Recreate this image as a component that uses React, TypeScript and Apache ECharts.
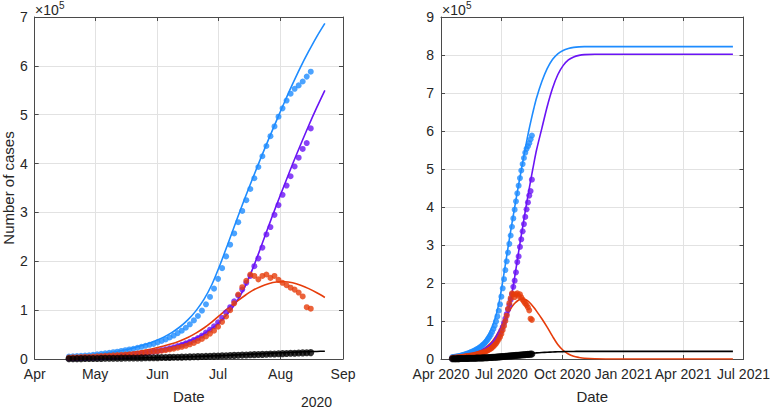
import React, { useEffect, useRef } from 'react';
import * as echarts from 'echarts';

// Observations: every 2 days, first one 17 days after 2020-04-01 (values in units of 10^5)
const obsStartDay = 17;
const obsStepDays = 2;

const confirmedObs = [
  0.05, 0.055, 0.06, 0.065, 0.07, 0.075, 0.085, 0.095, 0.105, 0.115,
  0.125, 0.14, 0.15, 0.165, 0.18, 0.195, 0.21, 0.23, 0.25, 0.27,
  0.29, 0.31, 0.34, 0.37, 0.40, 0.44, 0.48, 0.53, 0.58, 0.64,
  0.71, 0.79, 0.88, 0.99, 1.12, 1.27, 1.44, 1.64, 1.86, 2.10,
  2.34, 2.57, 2.80, 3.03, 3.25, 3.48, 3.70, 3.93, 4.15, 4.36,
  4.56, 4.76, 4.96, 5.13, 5.29, 5.43, 5.53, 5.60, 5.68, 5.78,
  5.88,
];
const recoveredObs = [
  0.01, 0.012, 0.014, 0.016, 0.018, 0.02, 0.025, 0.03, 0.035, 0.04,
  0.045, 0.05, 0.055, 0.06, 0.07, 0.08, 0.09, 0.10, 0.11, 0.12,
  0.135, 0.15, 0.16, 0.18, 0.20, 0.22, 0.24, 0.265, 0.29, 0.32,
  0.35, 0.39, 0.43, 0.48, 0.54, 0.60, 0.67, 0.75, 0.84, 0.95,
  1.06, 1.18, 1.30, 1.42, 1.56, 1.70, 1.90, 2.06, 2.28, 2.55,
  2.70, 2.95, 3.15, 3.36, 3.55, 3.74, 3.94, 4.12, 4.30, 4.42,
  4.72,
];
const activeObs = [
  0.03, 0.033, 0.036, 0.04, 0.043, 0.046, 0.05, 0.055, 0.06, 0.065,
  0.07, 0.075, 0.08, 0.085, 0.09, 0.095, 0.10, 0.11, 0.12, 0.13,
  0.14, 0.15, 0.16, 0.17, 0.18, 0.195, 0.21, 0.23, 0.25, 0.27,
  0.30, 0.33, 0.37, 0.41, 0.46, 0.52, 0.58, 0.66, 0.76, 0.87,
  1.00, 1.14, 1.32, 1.47, 1.60, 1.73, 1.70, 1.63, 1.70, 1.73,
  1.66, 1.70, 1.62, 1.56, 1.51, 1.46, 1.42, 1.36, 1.28, 1.06,
  1.03,
];
const deathsObs = [
  0.005, 0.006, 0.007, 0.008, 0.009, 0.010, 0.011, 0.012, 0.013, 0.014,
  0.015, 0.016, 0.017, 0.018, 0.019, 0.020, 0.021, 0.022, 0.023, 0.024,
  0.025, 0.027, 0.028, 0.030, 0.031, 0.033, 0.035, 0.037, 0.039, 0.041,
  0.043, 0.045, 0.048, 0.050, 0.053, 0.056, 0.059, 0.062, 0.065, 0.068,
  0.071, 0.074, 0.077, 0.080, 0.083, 0.086, 0.089, 0.092, 0.095, 0.098,
  0.101, 0.104, 0.107, 0.110, 0.113, 0.116, 0.119, 0.122, 0.125, 0.128,
  0.131,
];

// Model fits: days after 2020-04-01
const fitDays = [
  16, 20, 24, 28, 32, 36, 40, 44, 48, 52, 56, 60, 64, 68, 72, 76, 80, 84, 88, 92, 96,
  100, 104, 108, 112, 116, 120, 124, 128, 132, 136, 140, 144,
  152, 160, 168, 176, 184, 192, 200, 208, 216, 232, 256, 300, 370, 440,
];
const confirmedFit = [
  0.050, 0.060, 0.072, 0.086, 0.104, 0.125, 0.150, 0.180, 0.216, 0.259, 0.311, 0.373, 0.448, 0.540, 0.655, 0.800, 0.985, 1.22, 1.53, 1.93, 2.37,
  2.82, 3.26, 3.68, 4.09, 4.49, 4.88, 5.26, 5.63, 5.98, 6.30, 6.60, 6.87,
  7.30, 7.64, 7.88, 8.03, 8.12, 8.17, 8.20, 8.215, 8.22, 8.22, 8.22, 8.22, 8.22, 8.22,
];
const recoveredFit = [
  0.022, 0.028, 0.033, 0.040, 0.048, 0.0575, 0.069, 0.0825, 0.0995, 0.120, 0.144, 0.172, 0.207, 0.248, 0.298, 0.357, 0.429, 0.517, 0.626, 0.764, 0.94,
  1.16, 1.45, 1.83, 2.26, 2.71, 3.15, 3.57, 3.99, 4.39, 4.78, 5.15, 5.50,
  6.07, 6.64, 7.12, 7.48, 7.72, 7.87, 7.95, 7.99, 8.01, 8.02, 8.02, 8.02, 8.02, 8.02,
];
const activeFit = [
  0.033, 0.039, 0.047, 0.056, 0.067, 0.080, 0.095, 0.113, 0.135, 0.160, 0.190, 0.225, 0.265, 0.310, 0.370, 0.440, 0.530, 0.635, 0.760, 0.900, 1.04,
  1.17, 1.29, 1.40, 1.48, 1.54, 1.575, 1.58, 1.56, 1.51, 1.44, 1.355, 1.26,
  1.06, 0.84, 0.60, 0.38, 0.23, 0.13, 0.07, 0.04, 0.02, 0.006, 0.001, 0, 0, 0,
];
const deathsFit = [
  0.005, 0.006, 0.007, 0.008, 0.010, 0.012, 0.014, 0.016, 0.019, 0.022, 0.025, 0.028, 0.032, 0.036, 0.040, 0.045, 0.050, 0.056, 0.062, 0.069, 0.076,
  0.084, 0.092, 0.100, 0.108, 0.116, 0.124, 0.131, 0.138, 0.144, 0.150, 0.155, 0.160,
  0.170, 0.178, 0.185, 0.190, 0.194, 0.197, 0.199, 0.20, 0.20, 0.20, 0.20, 0.20, 0.20, 0.20,
];
const leftFitEndDay = 144;

const leftTickDates = ['2020-04-01', '2020-05-01', '2020-06-01', '2020-07-01', '2020-08-01', '2020-09-01'];
const leftTickLabels = ['Apr', 'May', 'Jun', 'Jul', 'Aug', 'Sep'];
const rightTickDates = ['2020-04-01', '2020-07-01', '2020-10-01', '2021-01-01', '2021-04-01', '2021-07-01'];
const rightTickLabels = ['Apr 2020', 'Jul 2020', 'Oct 2020', 'Jan 2021', 'Apr 2021', 'Jul 2021'];
const leftYMax = 7;
const rightYMax = 9;

const COLORS = ['#1E8CFF', '#6A14F5', '#E63C0A', '#000000'];
const MARKER_SIZES = [6, 6, 6, 7];
const TEXT = '#262626';
const AXIS = '#4a4a4a';
const GRID = '#e2e2e2';
const FONT = '"Liberation Sans", Arial, sans-serif';

// days since 2020-04-01
const toDay = (s: string) => {
  const [y, m, d] = s.split('-').map(Number);
  return Math.round((Date.UTC(y, m - 1, d) - Date.UTC(2020, 3, 1)) / 86400000);
};

export default function App() {
  const ref = useRef<HTMLDivElement>(null);
  useEffect(() => {
    if (!ref.current) return;
    const chart = echarts.init(ref.current, undefined, { renderer: 'svg' });
    const leftTicks = leftTickDates.map(toDay);
    const rightTicks = rightTickDates.map(toDay);

    const xAxisBase = (ticks: number[], labels: string[], gridIndex: number, position: 'bottom' | 'top') => ({
      type: 'value',
      gridIndex,
      position,
      min: ticks[0],
      max: ticks[ticks.length - 1],
      axisLine: { show: true, onZero: false, lineStyle: { color: AXIS, width: 1 } },
      axisTick: { show: true, inside: true, length: 4, customValues: ticks, lineStyle: { color: AXIS } },
      axisLabel: position === 'bottom'
        ? {
            show: true,
            customValues: ticks,
            color: TEXT,
            fontSize: 14,
            fontFamily: FONT,
            margin: 8,
            showMinLabel: true,
            showMaxLabel: true,
            hideOverlap: false,
            formatter: (v: number) => {
              const i = ticks.indexOf(Math.round(v));
              return i >= 0 ? labels[i] : '';
            },
          }
        : { show: false },
      splitLine: position === 'bottom'
        ? { show: true, lineStyle: { color: GRID, width: 1 } }
        : { show: false },
      name: position === 'bottom' ? 'Date' : '',
      nameLocation: 'middle',
      nameGap: 30,
      nameTextStyle: { color: TEXT, fontSize: 15, fontFamily: FONT },
    });

    const yAxisBase = (max: number, gridIndex: number, position: 'left' | 'right', name: string) => ({
      type: 'value',
      gridIndex,
      position,
      min: 0,
      max,
      interval: 1,
      axisLine: { show: true, onZero: false, lineStyle: { color: AXIS, width: 1 } },
      axisTick: { show: true, inside: true, length: 4, lineStyle: { color: AXIS } },
      axisLabel: position === 'left'
        ? { show: true, color: TEXT, fontSize: 14, fontFamily: FONT, margin: 7 }
        : { show: false },
      splitLine: position === 'left'
        ? { show: true, lineStyle: { color: GRID, width: 1 } }
        : { show: false },
      name,
      nameLocation: 'middle',
      nameGap: 12,
      nameTextStyle: { color: TEXT, fontSize: 15, fontFamily: FONT },
    });

    const obs = [confirmedObs, recoveredObs, activeObs, deathsObs];
    const fits = [confirmedFit, recoveredFit, activeFit, deathsFit];

    const series: any[] = [];
    [0, 1].forEach((panel) => {
      const axisIdx = panel === 0 ? 0 : 2;
      obs.forEach((arr, k) => {
        series.push({
          type: 'scatter',
          xAxisIndex: axisIdx,
          yAxisIndex: axisIdx,
          symbol: 'circle',
          symbolSize: MARKER_SIZES[k],
          itemStyle: { color: COLORS[k] },
          data: arr.map((v, i) => [obsStartDay + obsStepDays * i, v]),
          z: 2,
        });
        const fit = fits[k];
        const pts = fitDays
          .map((d, i) => [d, fit[i]])
          .filter(([d]) => panel === 1 || d <= leftFitEndDay);
        series.push({
          type: 'line',
          xAxisIndex: axisIdx,
          yAxisIndex: axisIdx,
          showSymbol: false,
          symbol: 'none',
          smooth: 0.3,
          lineStyle: { color: COLORS[k], width: 1.6 },
          data: pts,
          z: 2,
        });
      });
    });

    const expText = (x: number) => [
      { type: 'text', left: x, top: 3, style: { text: '×10', fill: TEXT, fontSize: 14, fontFamily: FONT } },
      { type: 'text', left: x + 24, top: 0, style: { text: '5', fill: TEXT, fontSize: 10, fontFamily: FONT } },
    ];

    chart.setOption({
      animation: false,
      backgroundColor: '#ffffff',
      grid: [
        { left: 34, top: 17, right: 430, bottom: 42, containLabel: false },
        { left: 441, top: 17, right: 25, bottom: 42, containLabel: false },
      ],
      xAxis: [
        xAxisBase(leftTicks, leftTickLabels, 0, 'bottom'),
        xAxisBase(leftTicks, leftTickLabels, 0, 'top'),
        xAxisBase(rightTicks, rightTickLabels, 1, 'bottom'),
        xAxisBase(rightTicks, rightTickLabels, 1, 'top'),
      ],
      yAxis: [
        yAxisBase(leftYMax, 0, 'left', 'Number of cases'),
        yAxisBase(leftYMax, 0, 'right', ''),
        yAxisBase(rightYMax, 1, 'left', ''),
        yAxisBase(rightYMax, 1, 'right', ''),
      ],
      graphic: [
        ...expText(35),
        ...expText(442),
        { type: 'text', left: 301, top: 395, style: { text: '2020', fill: TEXT, fontSize: 14, fontFamily: FONT } },
      ],
      series,
    });
    return () => chart.dispose();
  }, []);
  return (
    <div
      ref={ref}
      style={{ position: 'absolute', left: 0, top: 0, width: 773, height: 409, background: '#fff' }}
    />
  );
}
